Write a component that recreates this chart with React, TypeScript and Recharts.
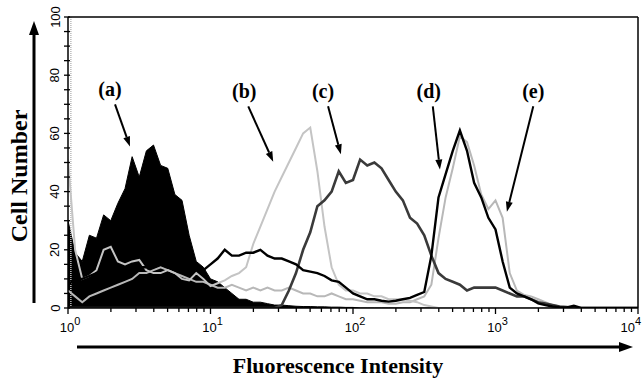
import React from 'react';
import { ComposedChart, Area, Line, XAxis, YAxis, ReferenceLine } from 'recharts';

// channel i sits at 10^(i/20) on the intensity axis (4 decades, 20 channels each)
const channels = Array.from({ length: 81 }, (_, i) => i);

// (a) filled control histogram
const seriesA = [
  30, 19, 16, 25, 24, 32, 30, 36, 41, 52, 45, 54, 56, 49, 48, 39, 37, 25, 16, 14,
  10, 9, 7, 5, 3, 3, 2, 2, 1.5, 1, 1, 0.8, 0.6, 0.5, 0.5, 0.4, 0.4, 0.3, 0.3, 0.2,
  0.2, 0, 0, 0, 0, 0, 0, 0, 0, 0, 0, 0, 0, 0, 0, 0, 0, 0, 0, 0,
  0, 0, 0, 0, 0, 0, 0, 0, 0, 0, 0, 0, 0, 0, 0, 0, 0, 0, 0, 0, 0,
];
// (b) light grey
const seriesB = [
  51, 20, 10, 11, 13, 20, 21, 16, 15, 16, 16.5, 13, 12, 12, 13, 12, 10, 9.5, 12, 10,
  7.5, 8.5, 9.5, 11, 12, 14, 22, 28, 34, 40, 45, 50, 55, 60, 62, 47, 28, 14, 8, 6,
  6, 5, 5, 4, 4, 3, 3, 3, 2.5, 2, 1, 0.5, 0, 0, 0, 0, 0, 0, 0, 0,
  0, 0, 0, 0, 0, 0, 0, 0, 0, 0, 0, 0, 0, 0, 0, 0, 0, 0, 0, 0, 0,
];
// (c) dark grey
const seriesC = [
  0, 0, 0, 0, 0, 0, 0, 0, 0, 0, 0, 0, 0, 0, 0, 0, 0, 0, 0, 0,
  0, 0, 0, 0, 0, 0, 0, 0, 0, 0, 1, 6, 12, 20, 26, 35, 37, 40, 47, 43,
  44, 51, 49, 50, 48, 44, 40, 37, 31, 29, 25, 18, 12, 10, 9, 8, 6, 7, 7, 7,
  7, 6, 5, 4, 4, 3, 2, 1.5, 1, 0.5, 0.3, 0, 0, 0, 0, 0, 0, 0, 0, 0, 0,
];
// (d) black
const seriesD = [
  8, 10, 10, 11, 12, 12, 13, 13, 13, 14, 14, 14, 14, 15, 14, 15, 15, 14, 14, 13,
  15, 17, 20, 18, 18, 19, 19, 20, 18, 17, 17, 16, 15, 13, 12.5, 12, 11, 9.5, 9, 7,
  5, 4, 3, 3, 2.5, 2.2, 2.5, 3, 3.5, 4.5, 5.5, 18, 38, 46, 54, 61, 54, 43, 38, 31,
  27, 16, 7, 5, 4, 3, 1.6, 1, 0.5, 0.3, 0.2, 0.8, 0, 0, 0, 0, 0, 0, 0, 0, 0,
];
// (e) light grey
const seriesE = [
  6, 4, 2, 4, 5, 6, 7, 8, 9, 10, 12, 12, 13, 14, 13, 12, 11, 10, 9, 9,
  8, 7, 7, 8, 7, 6, 7, 6, 7, 6, 6, 7, 6, 5, 5, 4, 4, 5, 4, 3,
  3, 2.5, 2, 2, 2, 1.5, 1.5, 2, 2, 3, 4, 8, 24, 38, 48, 59, 57, 49, 39, 34,
  37, 31, 12, 6, 4.5, 4, 3, 2, 1, 0.5, 0, 0, 0, 0, 0, 0, 0, 0, 0, 0, 0,
];

const decadeLabels = ['0', '1', '2', '3', '4'];
const majorX = [0, 20, 40, 60, 80];
const minorMultipliers = [2, 3, 4, 5, 6, 7, 8, 9];
const yTicks = [0, 5, 10, 15, 20, 25, 30, 35, 40, 45, 50, 55, 60, 65, 70, 75, 80, 85, 90, 95, 100];

// annotation arrows: [label, start channel, start count, end channel, end count, label shift]
const notes: [string, number, number, number, number, number][] = [
  ['(a)', 6.6, 70, 8.7, 55.5, -5],
  ['(b)', 25.3, 69.3, 28.8, 50.3, -4],
  ['(c)', 36.5, 69.3, 38.3, 52.8, -5],
  ['(d)', 51.2, 69.3, 52.2, 47.6, -4],
  ['(e)', 65.3, 69.3, 61.6, 33.1, 0],
];

const data = channels.map((ch, i) => ({
  ch,
  a: seriesA[i],
  b: seriesB[i],
  c: seriesC[i],
  d: seriesD[i],
  e: seriesE[i],
}));

const xTicks = [
  ...majorX,
  ...majorX.slice(0, 4).flatMap(m => minorMultipliers.map(k => m + 20 * Math.log10(k))),
];

const serif = '"Liberation Serif", "Times New Roman", serif';
const sans = '"Liberation Sans", Arial, sans-serif';

const XTick = (props: any) => {
  const { x, y, payload } = props;
  const idx = majorX.indexOf(payload.value);
  const major = idx >= 0;
  const last = idx === majorX.length - 1;
  return (
    <g>
      <line x1={x} x2={x} y1={y} y2={y + (major ? 6 : 4)} stroke="#000" strokeWidth={1.3} />
      {major && (
        <text
          x={last ? x + 3 : x + 2}
          y={y + 24}
          textAnchor={last ? 'end' : 'middle'}
          fontFamily={sans}
          fontSize={13}
          fill="#000"
        >
          10
          <tspan dy={-7} fontSize={11}>{decadeLabels[idx]}</tspan>
        </text>
      )}
    </g>
  );
};

const YTick = (props: any) => {
  const { x, y, payload } = props;
  const major = payload.value % 20 === 0;
  const lx = x - 13;
  return (
    <g>
      <line x1={x - 4} x2={x + 2} y1={y} y2={y} stroke="#000" strokeWidth={1.3} />
      {major && (
        <text
          x={lx}
          y={y}
          transform={`rotate(-90 ${lx} ${y})`}
          textAnchor="middle"
          dominantBaseline="central"
          fontFamily={sans}
          fontSize={13}
          fill="#000"
        >
          {payload.value}
        </text>
      )}
    </g>
  );
};

const arrowShape = (label: string, shift: number) => (p: any) => {
  const { x1, y1, x2, y2 } = p;
  const ang = Math.atan2(y2 - y1, x2 - x1);
  const L = 10;
  const W = 3.5;
  const bx = x2 - L * Math.cos(ang);
  const by = y2 - L * Math.sin(ang);
  const s = Math.sin(ang);
  const c = Math.cos(ang);
  const pts = `${x2},${y2} ${bx + W * s},${by - W * c} ${bx - W * s},${by + W * c}`;
  return (
    <g>
      <line x1={x1} y1={y1} x2={bx} y2={by} stroke="#000" strokeWidth={2} />
      <polygon points={pts} fill="#000" />
      <text x={x1 + shift} y={y1 - 8} textAnchor="middle" fontFamily={serif} fontWeight="bold" fontSize={20} fill="#000">
        {label}
      </text>
    </g>
  );
};

const AxisTitles = () => (
  <svg width={643} height={381} style={{ position: 'absolute', left: 0, top: 0, pointerEvents: 'none' }}>
    <line x1={34} x2={34} y1={303} y2={34} stroke="#000" strokeWidth={3} />
    <polygon points="34,21 29,35 39,35" fill="#000" />
    <text
      x={19}
      y={176}
      transform="rotate(-90 19 176)"
      textAnchor="middle"
      dominantBaseline="central"
      fontFamily={serif}
      fontWeight="bold"
      fontSize={24}
      fill="#000"
    >
      Cell Number
    </text>
    <line x1={77} x2={620} y1={347} y2={347} stroke="#000" strokeWidth={3} />
    <polygon points="633,347 619,342 619,352" fill="#000" />
    <text x={338} y={373} textAnchor="middle" fontFamily={serif} fontWeight="bold" fontSize={22} fill="#000">
      Fluorescence Intensity
    </text>
  </svg>
);

export default function App() {
  return (
    <div style={{ position: 'absolute', left: 0, top: 0, width: 643, height: 381, background: '#fff' }}>
      <ComposedChart width={643} height={381} data={data} margin={{ top: 17, right: 5, bottom: 43, left: 5 }}>
        <XAxis
          dataKey="ch"
          type="number"
          domain={[0, 80]}
          ticks={xTicks}
          interval={0}
          tickSize={0}
          tickMargin={0}
          tick={<XTick />}
          axisLine={{ stroke: '#000', strokeWidth: 1.5 }}
          height={30}
          allowDataOverflow
        />
        <YAxis
          type="number"
          domain={[0, 100]}
          ticks={yTicks}
          interval={0}
          tickSize={0}
          tickMargin={0}
          tick={<YTick />}
          axisLine={{ stroke: '#000', strokeWidth: 1.5 }}
          width={63}
          allowDataOverflow
        />
        <ReferenceLine x={0.4} stroke="#bbb" strokeWidth={1.5} strokeDasharray="1 1" />
        <Area
          type="linear"
          dataKey="a"
          stroke="#000"
          strokeWidth={1}
          fill="#000"
          fillOpacity={1}
          isAnimationActive={false}
          dot={false}
          activeDot={false}
        />
        <Line type="linear" dataKey="e" stroke="#b8b8b8" strokeWidth={2} dot={false} activeDot={false} isAnimationActive={false} />
        <Line type="linear" dataKey="b" stroke="#c4c4c4" strokeWidth={2} dot={false} activeDot={false} isAnimationActive={false} />
        <Line type="linear" dataKey="c" stroke="#3a3a3a" strokeWidth={2.6} dot={false} activeDot={false} isAnimationActive={false} />
        <Line type="linear" dataKey="d" stroke="#000" strokeWidth={2.4} dot={false} activeDot={false} isAnimationActive={false} />
        <ReferenceLine y={100} stroke="#000" strokeWidth={1.5} />
        <ReferenceLine x={80} stroke="#000" strokeWidth={1.5} />
        {notes.map(([label, sx, sy, ex, ey, shift]) => (
          <ReferenceLine
            key={label}
            segment={[{ x: sx, y: sy }, { x: ex, y: ey }]}
            shape={arrowShape(label, shift)}
          />
        ))}
      </ComposedChart>
      <AxisTitles />
    </div>
  );
}
